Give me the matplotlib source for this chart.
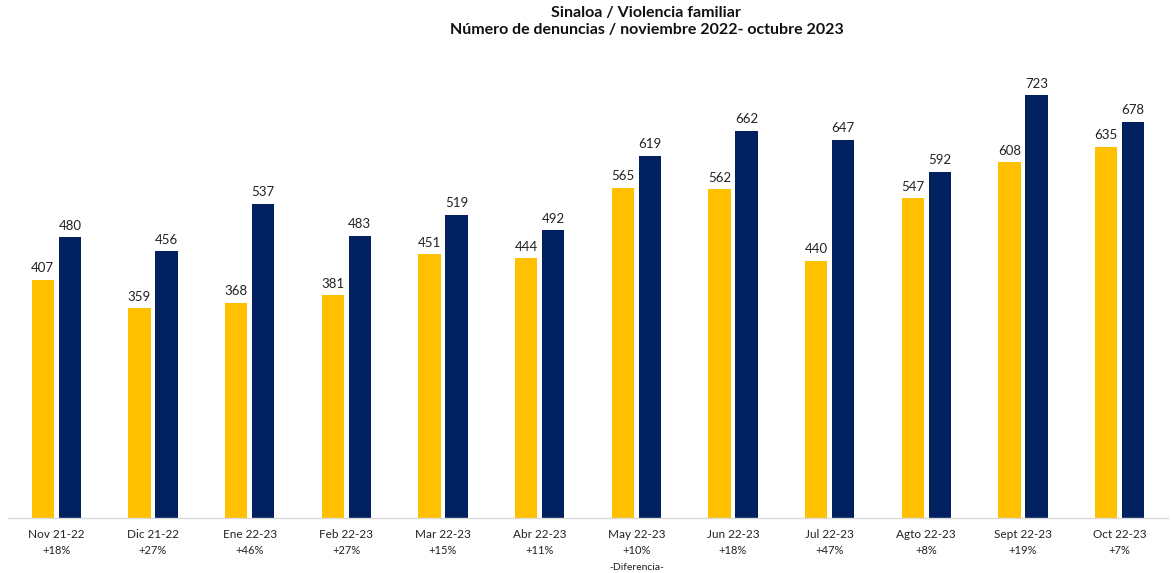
import matplotlib
matplotlib.use("Agg")
import matplotlib.pyplot as plt
import numpy as np

categories = ["Nov 21-22", "Dic 21-22", "Ene 22-23", "Feb 22-23", "Mar 22-23", "Abr 22-23",
              "May 22-23", "Jun 22-23", "Jul 22-23", "Agto 22-23", "Sept 22-23", "Oct 22-23"]
prev_year = [407, 359, 368, 381, 451, 444, 565, 562, 440, 547, 608, 635]
curr_year = [480, 456, 537, 483, 519, 492, 619, 662, 647, 592, 723, 678]
diffs = ["+18%", "+27%", "+46%", "+27%", "+15%", "+11%", "+10%", "+18%", "+47%", "+8%", "+19%", "+7%"]

plt.rcParams['font.family'] = ['Lato', 'DejaVu Sans']

fig = plt.figure(figsize=(11.71, 5.73), dpi=100)
ax = fig.add_axes([0.0068, 0.096, 0.9906, 0.796])

x = np.arange(len(categories))
w = 0.23
off = 0.14
ax.bar(x - off, prev_year, w, color="#FFC000")
ax.bar(x + off, curr_year, w, color="#002060")

for xi, v in zip(x - off, prev_year):
    ax.annotate(str(v), (xi, v), xytext=(0, 4), textcoords="offset points",
                ha="center", va="bottom", fontsize=9.5, color="#222222")
for xi, v in zip(x + off, curr_year):
    ax.annotate(str(v), (xi, v), xytext=(0, 4), textcoords="offset points",
                ha="center", va="bottom", fontsize=9.5, color="#222222")

ax.set_xlim(-0.5, len(categories) - 0.5)
ax.set_ylim(0, 780)
ax.set_yticks([])
ax.set_xticks(x)
ax.set_xticklabels(categories, fontsize=8.5, color="#222222")
ax.tick_params(axis="x", length=0, pad=8)
for s in ["top", "right", "left"]:
    ax.spines[s].set_visible(False)
ax.spines["bottom"].set_color("#D9D9D9")
ax.spines["bottom"].set_linewidth(1.0)

for xi, d in zip(x, diffs):
    ax.annotate(d, (xi, 0), xytext=(0, -23.5), textcoords="offset points",
                ha="center", va="center", fontsize=8, color="#222222",
                annotation_clip=False)
ax.annotate("-Diferencia-", (6, 0), xytext=(0, -35.5), textcoords="offset points",
            ha="center", va="center", fontsize=7.5, color="#222222", annotation_clip=False)

fig.text(0.552, 0.977, "Sinaloa / Violencia familiar", ha="center", va="center",
         fontsize=11.5, fontweight="bold", color="#111111")
fig.text(0.552, 0.947, "Número de denuncias / noviembre 2022- octubre 2023", ha="center", va="center",
         fontsize=11.5, fontweight="bold", color="#111111")

fig.savefig("out.png", dpi=100)
